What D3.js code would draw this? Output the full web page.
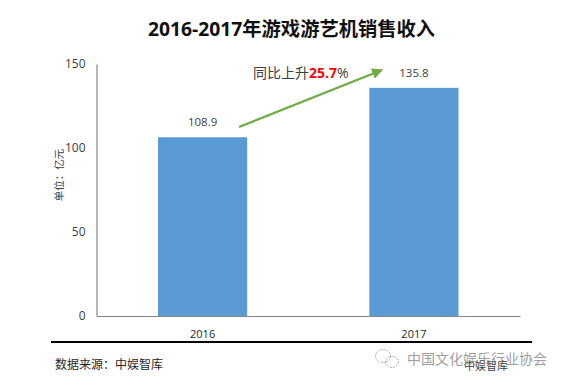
<!DOCTYPE html>
<html>
<head>
<meta charset="utf-8">
<script src="https://cdn.jsdelivr.net/npm/d3@7"></script>
<style>
  html, body { margin: 0; padding: 0; background: #fff; }
  text { font-family: "Open Sans", "Noto Sans CJK SC", sans-serif; }
</style>
</head>
<body>
<div id="chart"></div>
<script>
const years = ['2016', '2017'];
// heights as drawn in the picture; the 2016 bar sits a bit below its printed label
const barValues = [106.4, 135.8];
const barLabels = ['108.9', '135.8'];
const yTicks = [0, 50, 100, 150];

const width = 563;
const height = 384;
const margins = { top: 64, right: 43, bottom: 68, left: 96.5 };

const svg = d3.select('#chart')
  .append('svg')
  .attr('width', width)
  .attr('height', height);

const xScale = d3.scaleBand()
  .domain(years)
  .range([margins.left, width - margins.right])
  .paddingInner(0.578)
  .paddingOuter(0.291);

const yScale = d3.scaleLinear()
  .domain([0, 150])
  .range([height - margins.bottom, margins.top]);

/* Title */
svg.append('text')
  .attr('x', 291.5)
  .attr('y', 36)
  .attr('text-anchor', 'middle')
  .attr('font-size', 19.3)
  .attr('font-weight', 700)
  .attr('fill', '#111')
  .text('2016-2017年游戏游艺机销售收入');

/* Bars */
svg.selectAll('.bar')
  .data(barValues)
  .enter()
  .append('rect')
  .attr('class', 'bar')
  .attr('x', (d, i) => xScale(years[i]))
  .attr('y', d => yScale(d))
  .attr('width', xScale.bandwidth())
  .attr('height', d => yScale(0) - yScale(d))
  .attr('fill', '#5b9bd5');

svg.selectAll('.bar-label')
  .data(barValues)
  .enter()
  .append('text')
  .attr('class', 'bar-label')
  .attr('x', (d, i) => xScale(years[i]) + xScale.bandwidth() / 2)
  .attr('y', d => yScale(d) - 11)
  .attr('text-anchor', 'middle')
  .attr('font-size', 11.5)
  .attr('fill', '#404040')
  .text((d, i) => barLabels[i]);

/* Axes */
const yAxis = svg.append('g')
  .attr('transform', 'translate(' + margins.left + ',0)')
  .call(d3.axisLeft(yScale).tickValues(yTicks).tickSize(0).tickPadding(11));
yAxis.select('.domain').attr('stroke', '#868686').attr('stroke-width', 1.2);
yAxis.selectAll('text').attr('font-size', 12).attr('fill', '#404040');

const xAxis = svg.append('g')
  .attr('transform', 'translate(0,' + yScale(0) + ')')
  .call(d3.axisBottom(xScale).tickSize(0).tickPadding(14));
xAxis.select('.domain').attr('stroke', '#868686').attr('stroke-width', 1.2);
xAxis.selectAll('text').attr('font-size', 11).attr('fill', '#262626');

svg.append('text')
  .attr('transform', 'translate(63,175) rotate(-90)')
  .attr('text-anchor', 'middle')
  .attr('font-size', 10.5)
  .attr('fill', '#404040')
  .text('单位：亿元');

/* Growth arrow and note */
svg.append('defs')
  .append('marker')
  .attr('id', 'arrow')
  .attr('viewBox', '0 0 10 10')
  .attr('refX', 9)
  .attr('refY', 5)
  .attr('markerWidth', 5)
  .attr('markerHeight', 5)
  .attr('orient', 'auto')
  .append('path')
  .attr('d', 'M0,0L10,5L0,10z')
  .attr('fill', '#70ad47');

svg.append('line')
  .attr('x1', 239)
  .attr('y1', 127)
  .attr('x2', 382)
  .attr('y2', 70)
  .attr('stroke', '#70ad47')
  .attr('stroke-width', 2.2)
  .attr('marker-end', 'url(#arrow)');

const note = svg.append('text')
  .attr('x', 253)
  .attr('y', 78)
  .attr('font-size', 14)
  .attr('fill', '#404040');
note.append('tspan').text('同比上升');
note.append('tspan').attr('fill', '#ff0000').attr('font-weight', 700).text('25.7');
note.append('tspan').text('%');

/* Footer */
svg.append('line')
  .attr('x1', 51)
  .attr('x2', 532)
  .attr('y1', 342)
  .attr('y2', 342)
  .attr('stroke', '#000')
  .attr('stroke-width', 2);

svg.append('text')
  .attr('x', 55)
  .attr('y', 369)
  .attr('font-size', 12)
  .attr('fill', '#262626')
  .text('数据来源：中娱智库');

svg.append('text')
  .attr('x', 464)
  .attr('y', 370)
  .attr('font-size', 11)
  .attr('fill', '#404040')
  .text('中娱智库');

/* Watermark */
svg.append('text')
  .attr('x', 407)
  .attr('y', 364)
  .attr('font-size', 14)
  .attr('fill', '#8c8c8c')
  .attr('fill-opacity', 0.85)
  .text('中国文化娱乐行业协会');

const icon = svg.append('g')
  .attr('fill', 'none')
  .attr('stroke', '#9a9a9a')
  .attr('stroke-width', 0.8)
  .attr('stroke-dasharray', '2 1');
icon.append('ellipse').attr('cx', 383).attr('cy', 356).attr('rx', 7.5).attr('ry', 6.5);
icon.append('ellipse').attr('cx', 392).attr('cy', 362).attr('rx', 6.5).attr('ry', 5.5);
</script>
</body>
</html>
